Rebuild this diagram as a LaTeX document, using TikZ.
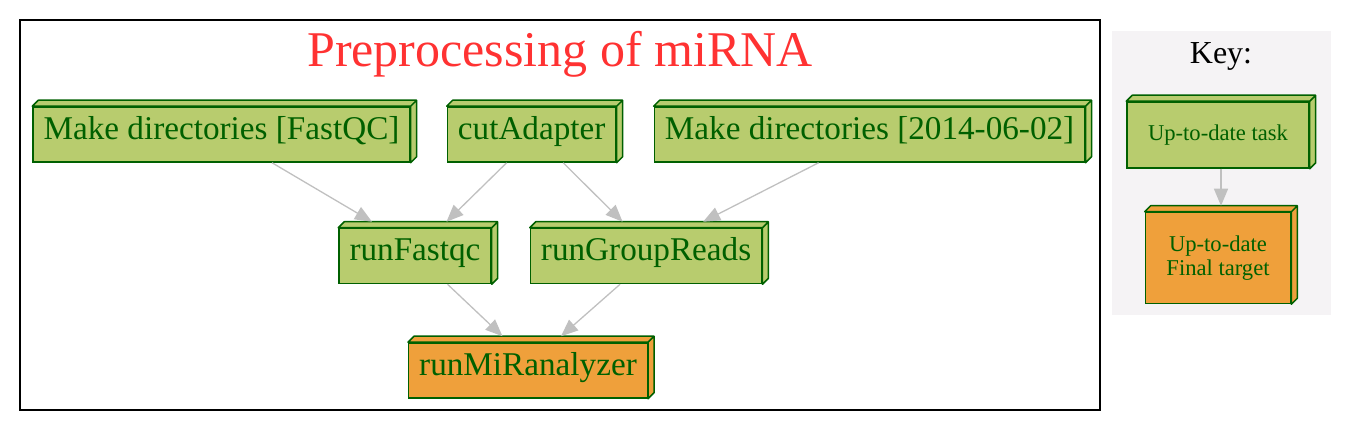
\documentclass[tikz,border=0pt]{standalone}
\usepackage{fontspec}
\setmainfont{Liberation Serif}
\usepackage{xcolor}
\usepackage{tikz}
\usetikzlibrary{positioning, calc, arrows.meta}
\definecolor{taskgreen}{HTML}{B8CC6E}
\definecolor{targetorange}{HTML}{EFA03B}
\definecolor{textgreen}{HTML}{006000}
\definecolor{edgegray}{HTML}{C0C0C0}
\definecolor{keyback}{HTML}{F5F3F5}
\definecolor{titlered}{HTML}{FF3232}

\begin{document}
\begin{tikzpicture}[
    x = 0.5pt, y = -0.5pt, > = {Triangle[length = 8.5pt, width = 7pt]},
    task/.style = {rectangle, draw = textgreen, line width = 0.75pt, fill = taskgreen, text = textgreen, inner xsep = 5.25pt, inner ysep = 0pt, minimum height = 27.5pt, font = \fontsize{16.6}{19}\selectfont, text height = 0.7em, text depth = 0.2em},
    target/.style = {task, fill = targetorange},
    keytask/.style = {rectangle, draw = textgreen, line width = 0.75pt, fill = taskgreen, text = textgreen, inner xsep = 10.5pt, inner ysep = 0pt, minimum height = 33pt, align = center, font = \fontsize{11.3}{12.2}\selectfont},
    keytarget/.style = {keytask, fill = targetorange, minimum height = 45.5pt},
    dep/.style = {->, draw = edgegray, line width = 0.65pt},
    % faces of the 3d boxes
    face/.style = {draw = textgreen, line width = 0.75pt, line join = round},
    ]
    \useasboundingbox (0,0) rectangle (1350,432);

    % cluster frame and key background
    \draw [line width = 0.6pt] (20,20) rectangle (1100,410);
    \fill [keyback] (1112,31) rectangle (1331,315);
    \node [text = titlered, font = \fontsize{25}{30}\selectfont, anchor = base] (title) at (560,67) {Preprocessing of miRNA};
    \node [font = \fontsize{16}{19}\selectfont, anchor = base] (keytitle) at (1221,64) {Key:};

    \node [task]   (mkdirfq)     at (221.5,134.5)             {Make directories [FastQC]};
    \node [task]   (cutadapt)    [right = 18pt of mkdirfq]    {cutAdapter};
    \node [task]   (mkdirdate)   [right = 18.5pt of cutadapt] {Make directories [2014-06-02]};
    \node [task]   (fastqc)      at (415,256)                 {runFastqc};
    \node [task]   (groupreads)  [right = 19pt of fastqc]     {runGroupReads};
    \node [target] (miranalyzer) at (528,370.5)               {runMiRanalyzer};

    \node [keytask]   (keyuptodate) at (1218,135)                  {Up-to-date task};
    \node [keytarget] (keyfinal)    [below = 21.5pt of keyuptodate] {Up-to-date\\Final target};

    % top and side of each box
    \foreach \n/\c in {mkdirfq/taskgreen, cutadapt/taskgreen, mkdirdate/taskgreen, fastqc/taskgreen, groupreads/taskgreen, miranalyzer/targetorange, keyuptodate/taskgreen, keyfinal/targetorange} {
        \draw [face, fill = \c] (\n.north west) -- ++(6,-6) -- ($(\n.north east)+(6,-6)$) -- ($(\n.south east)+(6,-6)$) -- (\n.south east) -- (\n.north east) -- cycle
            (\n.north east) -- ++(6,-6);
    }

    % draw paths
    \draw [dep] ($(mkdirfq.south)+(50.5,0)$)    -- ($(fastqc.north)+(-43,-6)$);
    \draw [dep] ($(cutadapt.south)+(-25,0)$)    -- ($(fastqc.north)+(31.5,-6)$);
    \draw [dep] ($(cutadapt.south)+(31.5,0)$)   -- ($(groupreads.north)+(-23.5,-6)$);
    \draw [dep] ($(mkdirdate.south)+(-51,0)$)   -- ($(groupreads.north)+(57,-6)$);
    \draw [dep] ($(fastqc.south)+(32.5,0)$)     -- ($(miranalyzer.north)+(-25.5,-6)$);
    \draw [dep] ($(groupreads.south)+(-26,0)$)  -- ($(miranalyzer.north)+(33,-6)$);
    \draw [dep] ($(keyuptodate.south)+(3,0)$)   -- ($(keyfinal.north)+(3,-6)$);
\end{tikzpicture}
\end{document}
